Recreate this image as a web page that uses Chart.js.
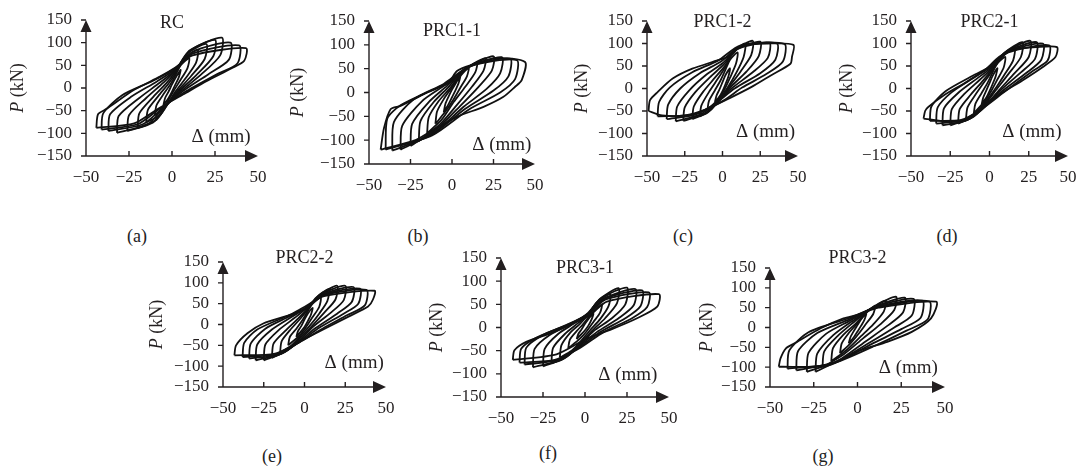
<!DOCTYPE html>
<html>
<head>
<meta charset="utf-8">
<script src="https://cdn.jsdelivr.net/npm/chart.js@4.4.1/dist/chart.umd.min.js"></script>
<style>
  body { margin: 0; background: #fff; width: 1084px; height: 471px; position: relative; overflow: hidden; }
  canvas { position: absolute; }
  .cap { position: absolute; font: 18px "Liberation Serif", serif; color: #222; transform: translate(-50%, -50%); }
</style>
</head>
<body>
<script>
// tick labels shared by every panel
const xTicks = [-50, -25, 0, 25, 50];
const yTicks = [-150, -100, -50, 0, 50, 100, 150];

const titles = ['RC', 'PRC1-1', 'PRC1-2', 'PRC2-1', 'PRC2-2', 'PRC3-1', 'PRC3-2'];
const captions = ['(a)', '(b)', '(c)', '(d)', '(e)', '(f)', '(g)'];

// hysteresis loops, [displacement mm, load kN]
const rcLoops = [
  [[-5,-38],[-4,-22],[-2,-8],[0,8],[2,22],[5,40],[4,24],[2,8],[0,-8],[-2,-22],[-5,-38]],
  [[-10,-60],[-9,-38],[-5,-14],[-1,8],[2,28],[5,50],[10,66],[9,44],[5,18],[1,-6],[-2,-26],[-5,-46],[-10,-60]],
  [[-15,-76],[-14,-48],[-8,-18],[-2,10],[2,32],[7,64],[15,84],[14,56],[8,22],[2,-8],[-2,-32],[-7,-60],[-15,-76]],
  [[-20,-88],[-19,-56],[-11,-20],[-3,12],[2,36],[9,76],[20,97],[19,64],[11,26],[3,-8],[-3,-38],[-9,-70],[-20,-88]],
  [[-26,-95],[-25,-60],[-15,-22],[-5,12],[2,38],[10,82],[25,106],[24,70],[14,28],[4,-8],[-4,-42],[-11,-76],[-26,-95]],
  [[-32,-99],[-31,-62],[-19,-22],[-7,12],[2,40],[11,84],[29,111],[28,72],[17,30],[5,-8],[-5,-44],[-14,-80],[-32,-99]],
  [[-37,-95],[-36,-58],[-24,-20],[-9,14],[2,42],[12,80],[34,100],[33,62],[21,30],[6,-8],[-6,-46],[-17,-80],[-37,-95]],
  [[-41,-92],[-40,-56],[-29,-16],[-11,16],[2,44],[12,76],[39,94],[38,54],[26,30],[7,-10],[-8,-48],[-20,-80],[-41,-92]],
  [[-44,-88],[-43,-58],[-38,-46],[-22,-4],[-7,25],[2,45],[12,72],[43,88],[42,60],[35,44],[20,15],[8,-11],[-9,-48],[-22,-78],[-44,-88]]
];

const prc11Loops = [
  [[-5,-42],[-4,-24],[-2,-8],[0,6],[2,18],[5,35],[4,20],[2,4],[0,-10],[-2,-24],[-5,-42]],
  [[-10,-66],[-9,-40],[-5,-14],[-1,6],[3,26],[10,52],[9,34],[5,10],[1,-14],[-4,-40],[-10,-66]],
  [[-15,-86],[-14,-52],[-8,-18],[-1,10],[5,38],[15,63],[14,42],[8,12],[1,-20],[-6,-56],[-15,-86]],
  [[-20,-102],[-19,-60],[-11,-20],[-2,12],[6,44],[20,72],[19,46],[12,12],[3,-26],[-7,-66],[-20,-102]],
  [[-25,-112],[-24,-66],[-14,-20],[-3,14],[8,50],[25,76],[24,46],[16,12],[5,-28],[-9,-76],[-25,-112]],
  [[-31,-120],[-30,-70],[-18,-18],[-4,16],[9,52],[30,74],[29,40],[21,8],[7,-30],[-10,-82],[-31,-120]],
  [[-36,-122],[-35,-62],[-23,-14],[-5,18],[10,54],[35,71],[34,34],[25,4],[8,-34],[-12,-88],[-36,-122]],
  [[-40,-120],[-39,-55],[-31,-27],[-15,0],[-2,20],[11,55],[39,68],[38,28],[29,0],[10,-36],[-12,-90],[-40,-120]],
  [[-43,-120],[-41,-75],[-37,-35],[-31,-28],[-15,0],[-2,22],[3,45],[11,57],[27,72],[44,64],[42,26],[38,12],[31,-9],[19,-30],[3,-51],[-13,-82],[-22,-100],[-43,-120]]
];

const prc12Loops = [
  [[-5,-30],[-4,-16],[-2,-2],[0,14],[2,30],[5,45],[4,28],[2,10],[0,-6],[-2,-18],[-5,-30]],
  [[-10,-48],[-9,-28],[-5,-4],[-1,20],[2,42],[5,64],[10,80],[9,56],[5,24],[1,-4],[-3,-24],[-10,-48]],
  [[-15,-62],[-14,-38],[-9,-8],[-3,22],[2,48],[7,80],[15,100],[14,70],[9,34],[3,0],[-3,-28],[-8,-48],[-15,-62]],
  [[-20,-68],[-19,-40],[-13,-8],[-5,24],[2,52],[8,84],[20,106],[19,74],[12,38],[4,2],[-3,-30],[-10,-54],[-20,-68]],
  [[-26,-72],[-25,-42],[-18,-8],[-8,26],[1,54],[9,86],[25,104],[24,72],[16,38],[5,2],[-3,-30],[-12,-56],[-26,-72]],
  [[-31,-73],[-30,-40],[-22,-4],[-11,30],[0,56],[10,88],[31,102],[30,68],[20,36],[6,0],[-4,-32],[-15,-58],[-31,-73]],
  [[-37,-68],[-36,-36],[-28,0],[-15,34],[-1,60],[11,92],[36,100],[35,64],[25,34],[8,0],[-5,-34],[-18,-58],[-37,-68]],
  [[-43,-62],[-42,-30],[-35,2],[-20,36],[-3,62],[12,96],[41,99],[40,60],[29,32],[13,2],[0,-28],[-20,-58],[-43,-62]],
  [[-49,-50],[-48,-26],[-43,-8],[-33,22],[-20,44],[-3,63],[6,74],[12,95],[30,100],[47,97],[46,70],[45,55],[32,29],[19,3],[2,-26],[-10,-45],[-25,-60],[-40,-60],[-49,-50]]
];

const prc21Loops = [
  [[-5,-35],[-4,-20],[-2,-4],[0,12],[2,28],[5,45],[4,28],[2,10],[0,-6],[-2,-20],[-5,-35]],
  [[-10,-55],[-9,-34],[-5,-10],[-1,14],[2,36],[5,56],[10,70],[9,46],[5,20],[1,-6],[-3,-28],[-10,-55]],
  [[-15,-68],[-14,-42],[-9,-14],[-3,16],[2,40],[8,70],[16,90],[15,62],[9,28],[3,-4],[-3,-32],[-8,-52],[-15,-68]],
  [[-20,-78],[-19,-46],[-12,-14],[-4,18],[2,44],[9,78],[21,103],[20,70],[12,32],[4,-4],[-3,-36],[-10,-62],[-20,-78]],
  [[-25,-82],[-24,-46],[-16,-12],[-6,20],[2,46],[10,80],[26,106],[25,70],[16,34],[6,-4],[-3,-40],[-12,-66],[-25,-82]],
  [[-30,-82],[-29,-44],[-20,-10],[-8,22],[1,46],[11,82],[30,103],[29,66],[20,36],[7,-4],[-4,-42],[-14,-70],[-30,-82]],
  [[-34,-78],[-33,-42],[-24,-8],[-10,24],[0,46],[12,82],[34,100],[33,64],[24,36],[8,-6],[-5,-44],[-16,-70],[-34,-78]],
  [[-38,-72],[-37,-40],[-28,-6],[-12,26],[-1,46],[12,80],[38,96],[37,62],[28,40],[10,-6],[-6,-48],[-18,-70],[-38,-72]],
  [[-42,-67],[-41,-50],[-39,-41],[-29,-15],[-15,14],[-2,44],[6,70],[15,86],[30,92],[43,92],[42,70],[34,48],[21,18],[4,-19],[-8,-56],[-20,-74],[-42,-67]]
];

const prc22Loops = [
  [[-5,-30],[-4,-16],[-2,-4],[0,12],[2,26],[5,40],[4,24],[2,8],[0,-6],[-2,-16],[-5,-30]],
  [[-10,-50],[-9,-30],[-5,-10],[-1,12],[2,32],[5,50],[10,65],[9,42],[5,18],[1,-6],[-3,-26],[-10,-50]],
  [[-15,-68],[-14,-40],[-9,-14],[-3,12],[2,36],[7,64],[15,85],[14,56],[9,26],[3,-4],[-3,-30],[-8,-50],[-15,-68]],
  [[-20,-80],[-19,-46],[-12,-16],[-4,14],[2,38],[9,70],[20,93],[19,60],[12,28],[4,-6],[-3,-34],[-10,-60],[-20,-80]],
  [[-25,-86],[-24,-48],[-16,-14],[-6,16],[1,38],[10,72],[25,93],[24,58],[16,28],[5,-6],[-3,-38],[-12,-66],[-25,-86]],
  [[-30,-86],[-29,-48],[-20,-12],[-8,18],[1,40],[11,72],[30,90],[29,54],[20,26],[7,-8],[-3,-40],[-14,-70],[-30,-86]],
  [[-34,-82],[-33,-46],[-24,-10],[-10,18],[0,38],[12,72],[34,86],[33,50],[24,26],[9,-8],[-3,-42],[-16,-72],[-34,-82]],
  [[-38,-78],[-37,-44],[-29,-12],[-12,18],[0,38],[12,70],[38,83],[37,46],[26,22],[11,-10],[-2,-40],[-18,-72],[-38,-78]],
  [[-43,-74],[-42,-50],[-35,-21],[-25,3],[-9,23],[-1,40],[12,68],[43,81],[42,60],[39,43],[27,19],[13,-9],[1,-33],[-18,-70],[-43,-74]]
];

const prc31Loops = [
  [[-5,-25],[-4,-14],[-2,-4],[0,8],[2,18],[5,30],[4,18],[2,4],[0,-6],[-2,-14],[-5,-25]],
  [[-10,-45],[-9,-26],[-5,-8],[-1,8],[3,26],[10,50],[9,32],[5,12],[1,-8],[-3,-24],[-10,-45]],
  [[-15,-65],[-14,-38],[-9,-12],[-3,8],[2,28],[7,54],[15,72],[14,46],[9,18],[3,-6],[-3,-32],[-8,-50],[-15,-65]],
  [[-20,-78],[-19,-44],[-12,-14],[-4,10],[2,30],[9,62],[20,85],[19,52],[12,20],[4,-8],[-3,-36],[-10,-60],[-20,-78]],
  [[-25,-84],[-24,-46],[-16,-14],[-6,10],[2,32],[10,64],[25,86],[24,50],[16,20],[5,-8],[-3,-38],[-12,-66],[-25,-84]],
  [[-31,-86],[-30,-46],[-21,-16],[-8,8],[2,30],[11,62],[30,83],[29,48],[20,20],[7,-10],[-4,-42],[-14,-70],[-31,-86]],
  [[-36,-80],[-35,-44],[-26,-18],[-9,8],[2,30],[12,62],[34,80],[33,46],[24,20],[9,-10],[-4,-44],[-16,-70],[-36,-80]],
  [[-39,-76],[-38,-46],[-30,-24],[-12,4],[2,28],[12,60],[38,76],[37,44],[28,20],[11,-10],[-3,-44],[-18,-70],[-39,-76]],
  [[-43,-70],[-42,-49],[-35,-31],[-23,-16],[-7,9],[3,27],[13,56],[44,72],[43,45],[31,20],[15,-5],[1,-24],[-17,-58],[-43,-70]]
];

const prc32Loops = [
  [[-5,-40],[-4,-24],[-2,-8],[0,6],[2,20],[5,35],[4,20],[2,4],[0,-10],[-2,-24],[-5,-40]],
  [[-10,-65],[-9,-40],[-5,-14],[-1,6],[3,28],[10,55],[9,34],[5,10],[1,-14],[-4,-40],[-10,-65]],
  [[-15,-85],[-14,-52],[-8,-18],[-1,10],[5,38],[16,68],[15,40],[9,8],[2,-22],[-6,-56],[-15,-85]],
  [[-20,-100],[-19,-60],[-11,-20],[-2,14],[7,46],[22,78],[21,44],[13,8],[3,-28],[-8,-68],[-20,-100]],
  [[-24,-112],[-23,-66],[-14,-20],[-3,16],[9,50],[27,75],[26,38],[17,4],[5,-34],[-9,-78],[-24,-112]],
  [[-29,-112],[-28,-64],[-18,-16],[-4,18],[10,52],[32,72],[31,30],[21,0],[7,-38],[-11,-84],[-29,-112]],
  [[-35,-108],[-34,-60],[-23,-14],[-5,20],[11,52],[37,68],[36,24],[25,-4],[8,-42],[-13,-88],[-35,-108]],
  [[-40,-104],[-39,-58],[-28,-12],[-6,22],[12,52],[41,66],[40,20],[28,-8],[10,-46],[-15,-92],[-40,-104]],
  [[-45,-99],[-44,-78],[-41,-53],[-36,-40],[-21,-2],[-8,23],[0,32],[12,50],[45,65],[42,23],[31,-11],[17,-36],[2,-57],[-17,-96],[-45,-99]]
];

const allLoops = [rcLoops, prc11Loops, prc12Loops, prc21Loops, prc22Loops, prc31Loops, prc32Loops];

// page layout: plot box (x=-50..50, y=-150..150) in pixels, text offsets
const panels = [
  { l: 86,  r: 258,  t: 20,  b: 156, titleDy: 3,   dX: 28.5, dDy: 19, pX: -68, cap: [137, 236] },
  { l: 369, r: 535,  t: 21,  b: 164, titleDy: 10,  dX: 30,   dDy: 19, pX: -71, cap: [418, 236] },
  { l: 647, r: 798,  t: 21,  b: 156, titleDy: 1,   dX: 28.5, dDy: 24, pX: -65, cap: [683, 236] },
  { l: 911, r: 1068, t: 21,  b: 156, titleDy: 1,   dX: 27,   dDy: 24, pX: -64, cap: [947, 236] },
  { l: 223, r: 386,  t: 262, b: 387, titleDy: -4,  dX: 30.5, dDy: 24, pX: -66, cap: [272, 456] },
  { l: 501, r: 669,  t: 258, b: 397, titleDy: 10,  dX: 25.5, dDy: 22, pX: -64, cap: [548, 453] },
  { l: 770, r: 945,  t: 268, b: 387, titleDy: -10, dX: 29,   dDy: 19, pX: -63, cap: [823, 456] }
];

const ink = '#231f20';
const serif = '"Liberation Serif", "Times New Roman", serif';
const pad = { left: 80, right: 16, top: 24, bottom: 36 };

const hystAxes = {
  id: 'hystAxes',
  afterDraw(chart, args, o) {
    const { ctx } = chart;
    const x = chart.scales.x, y = chart.scales.y;
    const x0 = x.getPixelForValue(-50), x1 = x.getPixelForValue(50);
    const y0 = y.getPixelForValue(-150), y1 = y.getPixelForValue(150);
    ctx.save();
    ctx.strokeStyle = ink;
    ctx.fillStyle = ink;
    ctx.lineWidth = 1.4;
    ctx.beginPath();
    ctx.moveTo(x0 - 3, y0); ctx.lineTo(x1 - 8, y0);
    ctx.moveTo(x0, y0); ctx.lineTo(x0, y1 + 8);
    // ticks
    yTicks.forEach(v => { const py = y.getPixelForValue(v); ctx.moveTo(x0 - 5, py); ctx.lineTo(x0, py); });
    xTicks.forEach(v => {
      if (v > -50 && v < 50) { const px = x.getPixelForValue(v); ctx.moveTo(px, y0); ctx.lineTo(px, y0 - 5); }
    });
    ctx.stroke();
    // arrow heads
    ctx.beginPath();
    ctx.moveTo(x1, y0); ctx.lineTo(x1 - 13, y0 - 6); ctx.lineTo(x1 - 13, y0 + 6); ctx.closePath();
    ctx.moveTo(x0, y1); ctx.lineTo(x0 - 5.5, y1 + 12); ctx.lineTo(x0 + 5.5, y1 + 12); ctx.closePath();
    ctx.fill();

    ctx.font = '17px ' + serif;
    ctx.textBaseline = 'middle';
    ctx.textAlign = 'right';
    yTicks.forEach(v => ctx.fillText(String(v).replace('-', '\u2212'), x0 - 14, y.getPixelForValue(v)));
    ctx.textAlign = 'center';
    xTicks.forEach(v => ctx.fillText(String(v).replace('-', '\u2212'), x.getPixelForValue(v), y0 + 22));

    ctx.font = '18px ' + serif;
    ctx.fillText(o.title, x.getPixelForValue(0), y1 + o.titleDy);
    ctx.font = '19px ' + serif;
    ctx.fillText('\u0394 (mm)', x.getPixelForValue(o.dX), y0 - o.dDy);

    // rotated P (kN)
    ctx.translate(x0 + o.pX, (y0 + y1) / 2);
    ctx.rotate(-Math.PI / 2);
    ctx.font = 'italic 18px ' + serif;
    const wP = ctx.measureText('P').width;
    ctx.font = '18px ' + serif;
    const wRest = ctx.measureText(' (kN)').width;
    const start = -(wP + wRest) / 2;
    ctx.textAlign = 'left';
    ctx.font = 'italic 18px ' + serif;
    ctx.fillText('P', start, 0);
    ctx.font = '18px ' + serif;
    ctx.fillText(' (kN)', start + wP, 0);
    ctx.restore();
  }
};

panels.forEach((p, i) => {
  const cv = document.createElement('canvas');
  const w = p.r - p.l + pad.left + pad.right;
  const h = p.b - p.t + pad.top + pad.bottom;
  cv.width = w; cv.height = h;
  cv.style.left = (p.l - pad.left) + 'px';
  cv.style.top = (p.t - pad.top) + 'px';
  cv.style.width = w + 'px'; cv.style.height = h + 'px';
  document.body.appendChild(cv);

  const cap = document.createElement('div');
  cap.className = 'cap';
  cap.textContent = captions[i];
  cap.style.left = p.cap[0] + 'px';
  cap.style.top = p.cap[1] + 'px';
  document.body.appendChild(cap);

  new Chart(cv, {
    type: 'scatter',
    data: {
      datasets: allLoops[i].map(loop => ({
        data: loop.map(([dx, f]) => ({ x: dx, y: f })),
        showLine: true,
        borderColor: '#111',
        borderWidth: 1.8,
        pointRadius: 0,
        tension: 0.25,
        fill: false
      }))
    },
    options: {
      responsive: false,
      animation: false,
      events: [],
      layout: { padding: pad },
      scales: {
        x: { type: 'linear', min: -50, max: 50, display: false },
        y: { type: 'linear', min: -150, max: 150, display: false }
      },
      plugins: {
        legend: { display: false },
        tooltip: { enabled: false },
        hystAxes: { title: titles[i], titleDy: p.titleDy, dX: p.dX, dDy: p.dDy, pX: p.pX }
      }
    },
    plugins: [hystAxes]
  });
});
</script>
</body>
</html>
